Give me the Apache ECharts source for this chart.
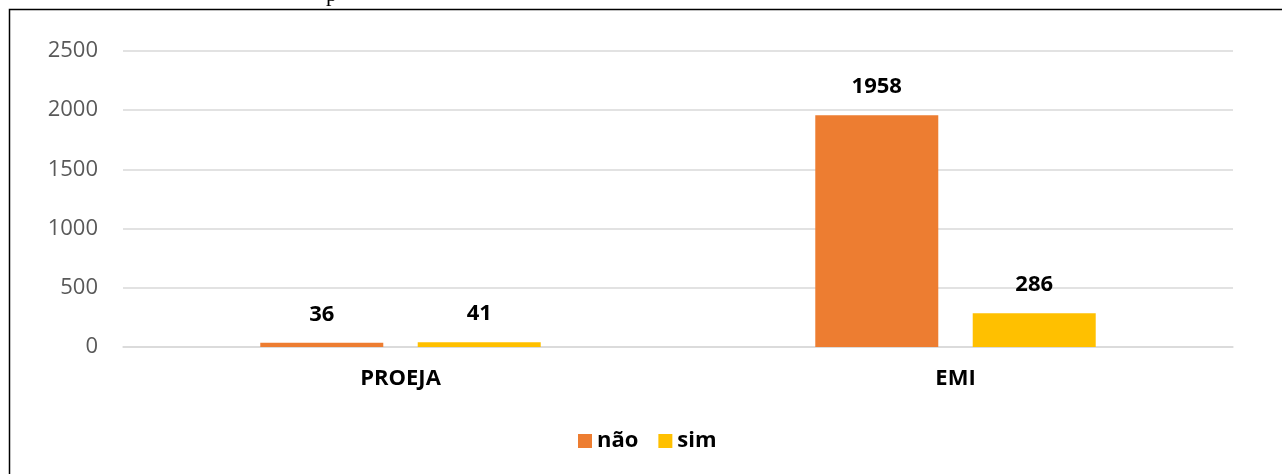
<!DOCTYPE html>
<html><head><meta charset="utf-8">
<script src="https://cdn.jsdelivr.net/npm/echarts@6/dist/echarts.min.js"></script>
<style>html,body{margin:0;padding:0;background:#fff}#c{width:1282px;height:474px}</style>
</head><body><div id="c"></div>
<script>
const categories = ['PROEJA', 'EMI'];
const seriesNames = ['não', 'sim'];
const naoValues = [36, 1958];
const simValues = [41, 286];
const yTicks = [0, 500, 1000, 1500, 2000, 2500];

const font = 'Open Sans';
const chart = echarts.init(document.getElementById('c'), null, {renderer: 'canvas'});
const lbl = {show: true, position: 'top', distance: 17, color: '#000', fontWeight: 'bold', fontSize: 22, fontFamily: font};
chart.setOption({
  animation: false,
  backgroundColor: '#fff',
  graphic: [
    {type: 'rect', shape: {x: 9.5, y: 9.5, width: 1290, height: 480}, style: {fill: 'none', stroke: '#000', lineWidth: 1.5}, silent: true},
    {type: 'text', x: 326, y: -16, style: {text: 'p', font: '22px "Liberation Serif"', fill: '#000'}, silent: true}
  ],
  grid: {left: 123, right: 49, top: 51, bottom: 127, containLabel: false},
  legend: {
    data: seriesNames, bottom: 17, left: 573, itemWidth: 14, itemHeight: 14, itemGap: 20,
    icon: 'rect',
    textStyle: {fontFamily: font, fontWeight: 'bold', fontSize: 22, color: '#000'}
  },
  xAxis: {
    type: 'category', data: categories,
    axisLine: {show: true, lineStyle: {color: '#d9d9d9', width: 1.5}},
    axisTick: {show: false},
    axisLabel: {margin: 21, fontFamily: font, fontWeight: 'bold', fontSize: 22, color: '#000'}
  },
  yAxis: {
    type: 'value', min: yTicks[0], max: yTicks[yTicks.length - 1], interval: 500,
    axisLine: {show: false}, axisTick: {show: false},
    splitLine: {lineStyle: {color: '#d9d9d9', width: 1.5}},
    axisLabel: {margin: 25, fontFamily: font, fontSize: 22, color: '#595959', formatter: v => String(v)}
  },
  series: [
    {name: seriesNames[0], type: 'bar', data: naoValues, barWidth: 123, barGap: '28%', itemStyle: {color: '#ED7D31'}, label: lbl},
    {name: seriesNames[1], type: 'bar', data: simValues, barWidth: 123, itemStyle: {color: '#FFC000'}, label: lbl}
  ]
});
</script></body></html>
